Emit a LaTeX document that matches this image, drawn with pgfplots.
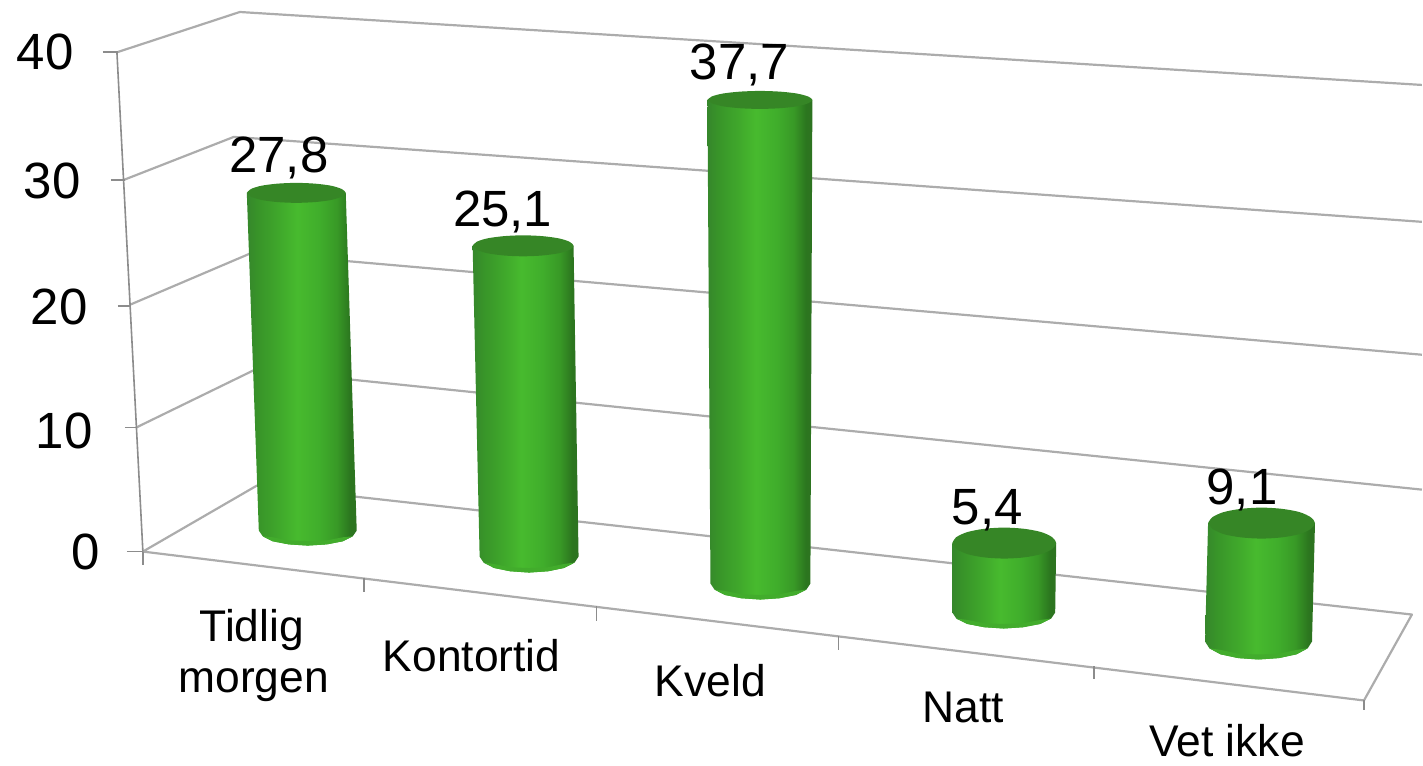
\documentclass[border=0pt]{standalone}
\usepackage{fontspec}
\setmainfont{Liberation Sans}
\usepackage{pgfplots}
\pgfplotsset{compat=1.18}
\usepackage{pgfplotstable}

\definecolor{gridgray}{RGB}{172,172,172}
\definecolor{tickgray}{RGB}{140,140,140}
\definecolor{topgreen}{RGB}{54,134,38}
\definecolor{rimgreen}{RGB}{66,172,44}
\pgfdeclarehorizontalshading{cylgreen}{100bp}{
  rgb(0bp)=(0.21,0.53,0.17);
  rgb(25bp)=(0.21,0.53,0.17);
  rgb(30bp)=(0.22,0.58,0.16);
  rgb(40bp)=(0.25,0.66,0.17);
  rgb(48bp)=(0.28,0.73,0.18);
  rgb(58bp)=(0.25,0.68,0.17);
  rgb(66bp)=(0.22,0.60,0.15);
  rgb(72bp)=(0.17,0.46,0.12);
  rgb(75bp)=(0.18,0.45,0.13);
  rgb(100bp)=(0.18,0.45,0.13)}

% picture coordinates: one unit is one pixel of the 1423x766 chart
\pgfplotstableread{
x    y   label
279  173 {27,8}
503  227 {25,1}
740  80  {37,7}
988  525 {5,4}
1243 505 {9,1}
}\valuelabels

\pgfplotsset{
  grid line/.style={draw=gridgray,line width=1.1pt,line join=round},
  tick line/.style={draw=tickgray,line width=0.8pt},
  body/.style={draw=none,shading=cylgreen},
  cap/.style={draw=none,fill=topgreen,smooth},
  rim/.style={draw=none,fill=rimgreen},
}

\begin{document}
\begin{tikzpicture}
\begin{axis}[
  width=711.5pt,height=383pt,scale only axis,
  xmin=0,xmax=1423,ymin=0,ymax=766,
  y dir=reverse,
  hide axis,clip=false,no markers,
]
% keeps the page as large as the whole chart
\addplot[draw=none] coordinates {(0,0) (1423,0) (1423,766) (0,766)};
% walls and floor
\addplot[grid line] coordinates {(118,52) (240,12) (1423,85)};
\addplot[grid line] coordinates {(124,180) (234,137) (1423,222)};
\addplot[grid line] coordinates {(130,305) (252,253) (1423,355)};
\addplot[grid line] coordinates {(136,428) (255,370) (1423,490)};
\addplot[grid line] coordinates {(143,552) (257,486) (1413,615) (1365,701) (143,552)};
\addplot[tick line] coordinates {(117,52) (143,552)};
% ticks
\addplot[tick line] coordinates {(103,52) (118,52)};
\addplot[tick line] coordinates {(111,180) (125,180)};
\addplot[tick line] coordinates {(118,306) (131,306)};
\addplot[tick line] coordinates {(125,428) (137,428)};
\addplot[tick line] coordinates {(127,552) (143,552)};
\addplot[tick line] coordinates {(143,552) (143,565)};
\addplot[tick line] coordinates {(364,578) (364,592)};
\addplot[tick line] coordinates {(597,606) (597,621)};
\addplot[tick line] coordinates {(839,636) (839,650)};
\addplot[tick line] coordinates {(1095,667) (1095,680)};
\addplot[tick line] coordinates {(1365,701) (1365,711)};

% Tidlig morgen
\addplot[body] coordinates {(247,193) (346,193) (357,531) (353,536.7) (343,541.7) (327,544.8) (308,546) (289,544.8) (273,541.7) (263,536.7) (259,531)} --cycle;
\addplot[rim] coordinates {(353,536.7) (343,541.7) (327,544.8) (308,546) (289,544.8) (273,541.7) (263,536.7) (273,537.7) (289,540.8) (308,541.5) (327,540.8) (343,537.7)} --cycle;
\addplot[cap] coordinates {(247,193) (251,189.2) (261.5,185.9) (277.5,183.8) (296.5,183) (315.5,183.8) (331.5,185.9) (342,189.2) (346,193) (342,196.8) (331.5,200.1) (315.5,202.2) (296.5,203) (277.5,202.2) (261.5,200.1) (251,196.8)} --cycle;
% Kontortid
\addplot[body] coordinates {(473,246) (574,246) (579,557) (575,563) (564.5,568.4) (548.5,571.7) (529.5,573) (510.5,571.7) (494.5,568.4) (484,563) (480,557)} --cycle;
\addplot[rim] coordinates {(575,563) (564.5,568.4) (548.5,571.7) (529.5,573) (510.5,571.7) (494.5,568.4) (484,563) (494.5,564.4) (510.5,567.7) (529.5,568.5) (548.5,567.7) (564.5,564.4)} --cycle;
\addplot[cap] coordinates {(473,246) (477,242) (487.5,238.6) (504.5,236.3) (523.5,235.5) (542.5,236.3) (559.5,238.6) (570,242) (574,246) (570,250) (559.5,253.4) (542.5,255.7) (523.5,256.5) (504.5,255.7) (487.5,253.4) (477,250)} --cycle;
% Kveld
\addplot[body] coordinates {(708,100) (813,100) (811,584) (807,590) (796.5,595.4) (780,598.7) (761,600) (742,598.7) (725.5,595.4) (715,590) (711,584)} --cycle;
\addplot[rim] coordinates {(807,590) (796.5,595.4) (780,598.7) (761,600) (742,598.7) (725.5,595.4) (715,590) (725.5,591.4) (742,594.7) (761,595.5) (780,594.7) (796.5,591.4)} --cycle;
\addplot[cap] coordinates {(708,100) (712.2,96.6) (723.5,93.6) (740.5,91.7) (760.5,91) (780.5,91.7) (797.5,93.6) (808.8,96.6) (813,100) (808.8,103.4) (797.5,106.4) (780.5,108.3) (760.5,109) (740.5,108.3) (723.5,106.4) (712.2,103.4)} --cycle;
% Natt
\addplot[body] coordinates {(953,543.5) (1057,543.5) (1056,613) (1052,619) (1041,624.4) (1024,627.7) (1004.5,629) (985,627.7) (968,624.4) (957,619) (953,613)} --cycle;
\addplot[rim] coordinates {(1052,619) (1041,624.4) (1024,627.7) (1004.5,629) (985,627.7) (968,624.4) (957,619) (968,620.4) (985,623.7) (1004.5,624.5) (1024,623.7) (1041,620.4)} --cycle;
\addplot[cap] coordinates {(953,543.5) (957,537.6) (968,532.5) (985,529.2) (1005,528) (1025,529.2) (1042,532.5) (1053,537.6) (1057,543.5) (1053,549.4) (1042,554.5) (1025,557.8) (1005,559) (985,557.8) (968,554.5) (957,549.4)} --cycle;
% Vet ikke
\addplot[body] coordinates {(1209,523.5) (1316,523.5) (1313,642) (1308.7,648.8) (1297.5,654.8) (1279.8,658.6) (1259.5,660) (1239.2,658.6) (1221.5,654.8) (1210.3,648.8) (1206,642)} --cycle;
\addplot[rim] coordinates {(1308.7,648.8) (1297.5,654.8) (1279.8,658.6) (1259.5,660) (1239.2,658.6) (1221.5,654.8) (1210.3,648.8) (1221.5,650.4) (1239.2,654.2) (1259.5,655) (1279.8,654.2) (1297.5,650.4)} --cycle;
\addplot[cap] coordinates {(1209,523.5) (1213.3,517.6) (1224.5,512.5) (1242.2,509.2) (1262.5,508) (1282.8,509.2) (1300.5,512.5) (1311.7,517.6) (1316,523.5) (1311.7,529.4) (1300.5,534.5) (1282.8,537.8) (1262.5,539) (1242.2,537.8) (1224.5,534.5) (1213.3,529.4)} --cycle;

% value labels
\addplot[draw=none,nodes near coords,point meta=explicit symbolic,
  nodes near coords style={anchor=base,inner sep=0pt,font=\fontsize{25.5}{28}\selectfont,text=black}]
  table[x=x,y=y,meta=label] {\valuelabels};

% y axis numbers
\begin{scope}[every node/.style={anchor=base east,inner sep=0pt,font=\fontsize{25.5}{28}\selectfont}]
\node at (axis cs:74,70) {40};
\node at (axis cs:81,199) {30};
\node at (axis cs:88,325) {20};
\node at (axis cs:93,449) {10};
\node at (axis cs:100,570) {0};
\end{scope}
% categories
\begin{scope}[every node/.style={anchor=base,inner sep=0pt,font=\fontsize{22.2}{25}\selectfont}]
\node at (axis cs:252,642) {Tidlig};
\node at (axis cs:254,693) {morgen};
\node at (axis cs:472,672) {Kontortid};
\node at (axis cs:711,697) {Kveld};
\node at (axis cs:964,723) {Natt};
\node at (axis cs:1228,757) {Vet ikke};
\end{scope}
\end{axis}
\end{tikzpicture}
\end{document}
